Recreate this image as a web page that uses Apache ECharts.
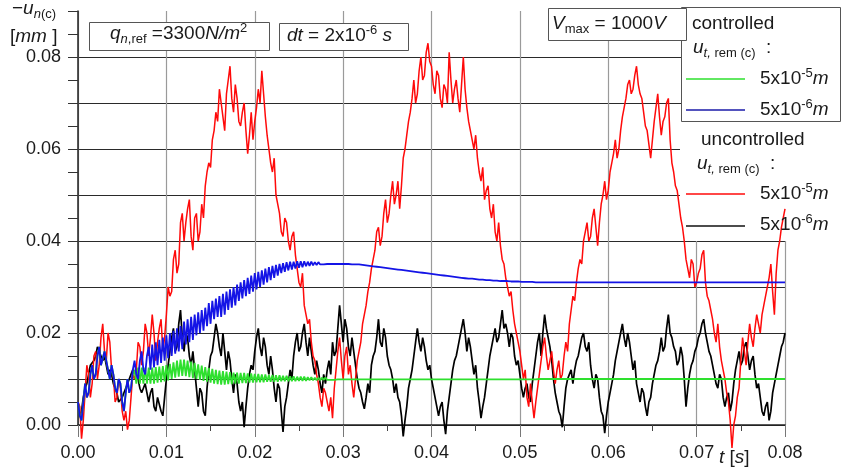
<!DOCTYPE html>
<html>
<head>
<meta charset="utf-8">
<script src="https://cdn.jsdelivr.net/npm/echarts@6/dist/echarts.min.js"></script>
<style>
html, body { margin: 0; padding: 0; background: #fff; }
#chart { width: 842px; height: 475px; }
</style>
</head>
<body>
<div id="chart"></div>
<script>
// every trace is sampled once per 0.2 ms (20 values per row = 4 ms), values in 10^-3 mm
const DT = 0.0002
const U = 0.001

// controlled, u_t,rem(c) = 5x10^-5 m (green)
const ctrl5e5 = [
  5, 2, 1, 5, 9, 6, 7, 11, 13, 10, 11, 15, 17, 13, 13, 16, 16, 12, 10, 13,
  11, 8, 7, 10, 9, 5, 3, 7, 10, 7, 8, 11, 12, 9, 12.5, 9, 12.5, 9, 12.5, 9,
  12.5, 9, 12.5, 9, 12.6, 9.2, 12.7, 9.3, 12.8, 9.5, 13, 9.7, 13.3, 10, 13.6, 10.3, 14, 10.5, 14.2, 10.7,
  14.2, 10.6, 14, 10.4, 13.8, 10.2, 13.5, 10, 13.2, 9.8, 12.9, 9.6, 12.6, 9.4, 12.4, 9.2, 12.2, 9, 12, 8.9,
  11.8, 8.8, 11.7, 8.8, 11.6, 8.9, 11.5, 8.9, 11.4, 9, 11.4, 9, 11.3, 9.1, 11.3, 9.1, 11.2, 9.2, 11.2, 9.2,
  11.1, 9.3, 11.1, 9.3, 11, 9.3, 11, 9.4, 10.9, 9.4, 10.9, 9.4, 10.8, 9.4, 10.8, 9.5, 10.7, 9.5, 10.7, 9.5,
  10.6, 9.5, 10.6, 9.5, 10.5, 9.6, 10.5, 9.6, 10.5, 9.6, 10.4, 9.7, 10.4, 9.7, 10.3, 9.7, 10.3, 9.7, 10.3, 9.8,
  10.3, 9.8, 10.2, 9.8, 10.2, 9.8, 10.2, 9.9, 10.1, 9.9, 10.1, 9.9, 10.1, 9.9, 10.1, 9.9, 10.1, 9.9, 10.1, 9.9,
  10.1, 9.9, 10.1, 9.9, 10.1, 9.9, 10.1, 9.9, 10.1, 9.9, 10.1, 9.9, 10.1, 9.9, 10.1, 9.9, 10.1, 9.9, 10.1, 9.9,
  10.1, 9.9, 10.1, 9.9, 10.1, 9.9, 10.1, 9.9, 10.1, 9.9, 10.1, 9.9, 10.1, 9.9, 10.1, 9.9, 10.1, 9.9, 10.1, 9.9,
  10.1, 9.9, 10.1, 9.9, 10.1, 9.9, 10.1, 9.9, 10.1, 9.9, 10.1, 9.9, 10.1, 9.9, 10.1, 9.9, 10.1, 9.9, 10.1, 9.9,
  10.1, 9.9, 10.1, 9.9, 10.1, 9.9, 10.1, 9.9, 10.1, 9.9, 10.1, 9.9, 10.1, 9.9, 10.1, 9.9, 10.1, 9.9, 10.1, 9.9,
  10.1, 9.9, 10.1, 9.9, 10.1, 9.9, 10.1, 9.9, 10.1, 9.9, 10.1, 9.9, 10.1, 9.9, 10.1, 9.9, 10.1, 9.9, 10.1, 9.9,
  10, 10, 10, 10, 10, 10, 10, 10, 10, 10, 10, 10, 10, 10, 10, 10, 10, 10, 10, 10,
  10, 10, 10, 10, 10, 10, 10, 10, 10, 10, 10, 10, 10, 10, 10, 10, 10, 10, 10, 10,
  10, 10, 10, 10, 10, 10, 10, 10, 10, 10, 10, 10, 10, 10, 10, 10, 10, 10, 10, 10,
  10, 10, 10, 10, 10, 10, 10, 10, 10, 10, 10, 10, 10, 10, 10, 10, 10, 10, 10, 10,
  10, 10, 10, 10, 10, 10, 10, 10, 10, 10, 10, 10, 10, 10, 10, 10, 10, 10, 10, 10,
  10, 10, 10, 10, 10, 10, 10, 10, 10, 10, 10, 10, 10, 10, 10, 10, 10, 10, 10, 10,
  10, 10, 10, 10, 10, 10, 10, 10, 10, 10, 10, 10, 10, 10, 10, 10, 10, 10, 10, 10,
  10
]

// controlled, u_t,rem(c) = 5x10^-6 m (blue)
const ctrl5e6 = [
  5, 2, 1, 5, 9, 6, 7, 11, 13, 10, 11, 15, 17, 13, 13, 16, 16, 12, 10, 13,
  11, 8, 7, 10, 9, 5, 3, 7, 10, 7, 8, 12, 14, 11, 10, 14, 16, 12, 11, 15,
  17, 12, 17.5, 12.5, 18, 13, 18.5, 13.5, 19, 14, 19.5, 14.5, 20, 15, 20.5, 15.5, 21, 16, 21.5, 16.5,
  22.5, 17.5, 23, 18, 23.5, 18.5, 24, 19.5, 24.5, 20, 25, 20.5, 25.5, 21.5, 26.5, 22, 27, 23, 27.5, 23.5,
  28, 23.5, 28.5, 24, 29, 25, 29.5, 25.5, 30, 26, 30.5, 27, 31, 27.5, 31.5, 28, 32, 28.5, 32.5, 29,
  33, 29.5, 33.3, 30, 33.6, 30.5, 34, 31, 34.3, 31.5, 34.6, 32, 34.8, 32.5, 35, 33, 35.2, 33.3, 35.4, 33.6,
  35.5, 33.8, 35.5, 34, 35.6, 34.2, 35.6, 34.3, 35.6, 34.5, 35.5, 34.6, 35.5, 34.7, 35.4, 34.8, 35.4, 34.9, 35.3, 34.9,
  35.3, 35, 35.3, 35, 35.2, 35, 35.2, 35, 35.2, 35, 35.1, 35, 35.1, 35, 35.1, 34.9, 35, 34.9, 35, 34.9,
  34.8, 34.8, 34.7, 34.7, 34.6, 34.6, 34.5, 34.5, 34.4, 34.4, 34.3, 34.3, 34.2, 34.2, 34.1, 34.1, 34, 34, 33.9, 33.9,
  33.8, 33.8, 33.7, 33.7, 33.6, 33.6, 33.5, 33.5, 33.4, 33.4, 33.3, 33.3, 33.2, 33.2, 33.1, 33.1, 33, 33, 32.9, 32.9,
  32.8, 32.8, 32.7, 32.7, 32.6, 32.6, 32.5, 32.5, 32.4, 32.4, 32.3, 32.3, 32.2, 32.2, 32.1, 32.1, 32, 32, 31.9, 31.9,
  31.8, 31.8, 31.8, 31.8, 31.7, 31.7, 31.6, 31.6, 31.6, 31.6, 31.5, 31.5, 31.5, 31.5, 31.4, 31.4, 31.4, 31.4, 31.3, 31.3,
  31.3, 31.3, 31.3, 31.3, 31.2, 31.2, 31.2, 31.2, 31.2, 31.2, 31.1, 31.1, 31.1, 31.1, 31.1, 31.1, 31.1, 31.1, 31, 31,
  31, 31, 31, 31, 31, 31, 31, 31, 31, 31, 31, 31, 31, 31, 31, 31, 31, 31, 31, 31,
  31, 31, 31, 31, 31, 31, 31, 31, 31, 31, 31, 31, 31, 31, 31, 31, 31, 31, 31, 31,
  31, 31, 31, 31, 31, 31, 31, 31, 31, 31, 31, 31, 31, 31, 31, 31, 31, 31, 31, 31,
  31, 31, 31, 31, 31, 31, 31, 31, 31, 31, 31, 31, 31, 31, 31, 31, 31, 31, 31, 31,
  31, 31, 31, 31, 31, 31, 31, 31, 31, 31, 31, 31, 31, 31, 31, 31, 31, 31, 31, 31,
  31, 31, 31, 31, 31, 31, 31, 31, 31, 31, 31, 31, 31, 31, 31, 31, 31, 31, 31, 31,
  31, 31, 31, 31, 31, 31, 31, 31, 31, 31, 31, 31, 31, 31, 31, 31, 31, 31, 31, 31,
  31
]

// uncontrolled, u_t,rem(c) = 5x10^-5 m (red)
const unc5e5 = [
  5, 4, -3, 1, 7, 13, 11, 6, 9, 15, 16, 10, 13, 19, 22, 16, 14, 20, 18, 12,
  11, 5, 6, 10, 8, 3, 1, 3, -1, 1, 6, 11, 10, 12, 18, 17, 13, 16, 22, 20,
  15, 19, 24, 20, 14, 18, 21, 23, 16, 19, 24, 30, 28, 29, 36, 38, 33, 35, 44, 46,
  40, 44, 47, 49, 41, 38, 45, 46, 40, 42, 48, 45, 52, 55, 57, 56, 62, 64, 68, 66,
  73, 70, 67, 64, 72, 75, 78, 71, 68, 74, 71, 66, 65, 68, 70, 64, 59, 63, 68, 62,
  66, 69, 73, 70, 77, 72, 67, 63, 60, 57, 55, 58, 50, 48, 46, 42, 41, 45, 44, 40,
  38, 41, 42, 37, 34, 31, 30, 33, 26, 24, 22, 23, 18, 15, 14, 11, 9, 6, 4, 8,
  7, 5, 3, 6, 1.5, 8, 12, 16, 19, 14, 10, 15, 17, 11, 13, 9, 6, 10, 14, 16,
  18, 22, 24, 26, 29, 31, 34, 36, 38, 42, 43, 39, 41, 46, 49, 44, 46, 50, 53, 48,
  50, 53, 47, 52, 58, 60, 63, 66, 68, 71, 75, 70, 72, 77, 80, 75, 76, 81, 83, 79,
  78, 74, 72, 77, 76, 71, 69, 74, 73, 70, 81, 75, 70, 73, 75, 71, 68, 74, 80, 73,
  69, 66, 64, 62, 60, 63, 58, 55, 53, 56, 49, 51, 52, 47, 45, 48, 42, 40, 44, 39,
  36, 35, 32, 30, 28, 29, 25, 22, 20, 18, 16, 13, 10, 12, 6, 4, 9, 5, 1.5, 5,
  8, 11, 14, 17, 19, 15, 12, 14, 16, 12, 9, 12, 14, 10, 11, 15, 18, 16, 22, 25,
  28, 27, 31, 34, 36, 35, 40, 42, 44, 40, 41, 45, 47, 43, 39, 44, 48, 50, 53, 49,
  51, 55, 57, 59, 62, 58, 60, 64, 67, 69, 71, 74, 75, 72, 73, 76, 78, 74, 72, 71,
  68, 65, 64, 61, 58, 62, 66, 69, 72, 67, 63, 66, 67, 70, 71, 62, 57, 55, 52, 51,
  48, 45, 43, 40, 36, 34, 32, 36, 35, 30, 31, 33, 34, 37, 38, 31, 28, 27, 25, 23,
  20, 18, 22, 17, 14, 12, 10, 7, 5, 1, -5, 0, 2, 6, 8, 14, 19, 16, 13, 18,
  22, 19, 17, 21, 24, 22, 20, 24, 26, 28, 30, 32, 35, 29, 24, 33, 38, 40, 43, 45,
  47
]

// uncontrolled, u_t,rem(c) = 5x10^-6 m (black)
const unc5e6 = [
  5, 2, 3, 6, 8, 9, 11, 13, 13, 14, 15, 17, 16, 15, 14, 15, 13, 11, 12, 11,
  9, 8, 7, 5, 5, 6, 6, 8, 9, 10, 11, 12, 12, 11, 10, 8, 7, 8, 9, 7,
  5, 7, 8, 4, 3, 6, 6, 3, 2, 6, 10, 13, 16, 19, 21, 16, 17, 22, 25, 19,
  16, 20, 19, 15, 13, 16, 12, 8, 4, 8, 7, 3, 2, 8, 12, 15, 16, 19, 22, 20,
  17, 15, 20, 16, 12, 16, 14, 10, 7, 11, 9, 5, 3, 5, -0.5, 4, 8, 11, 13, 12,
  16, 19, 21, 17, 15, 19, 17, 13, 11, 15, 12, 8, 5, 9, 8, 3, -1.5, 4, 6, 9,
  12, 10, 15, 18, 20, 16, 17, 20, 22, 18, 15, 19, 16, 13, 11, 14, 12, 9, 7, 11,
  9, 12, 14, 11, 18, 15, 16, 21, 26, 22, 18, 23, 21, 17, 15, 19, 16, 13, 10, 8,
  7, 5, 3.5, 6, 9, 7, 13, 15, 16, 19, 23, 18, 17, 21, 19, 15, 13, 12, 10, 7,
  9, 6, 5, 2, -2.5, 1, 4, 8, 10, 12, 15, 18, 21, 18, 16, 19, 17, 14, 12, 13,
  10, 8, 6, 4, 2, 4, 5, 1, -2, 3, 6, 9, 12, 14, 15, 17, 19, 21, 23, 20,
  16, 19, 17, 14, 11, 13, 8, 5, 1.5, 4, 6, 9, 12, 15, 17, 19, 21, 18, 19, 22,
  25, 21, 22, 20, 17, 20, 19, 15, 13, 14, 11, 8, 6, 8, 9, 6, 5, 9, 12, 15,
  18, 20, 15, 20, 24, 21, 19, 17, 14, 10, 7, 5, 3, 2, -0.5, 4, 8, 10, 11, 12,
  9, 12, 14, 15, 17, 19, 20, 17, 16, 18, 13, 10, 8, 11, 10, 6, 3, 2, -1.8, 2,
  5, 7, 9, 11, 14, 16, 18, 20, 22, 19, 17, 20, 18, 15, 12, 14, 9, 7, 5, 8,
  7, 4, 2, 5, 6, 9, 11, 13, 14, 16, 19, 16, 17, 21, 24, 20, 19, 17, 16, 13,
  14, 17, 15, 10, 4, 8, 11, 13, 14, 16, 17, 19, 20, 22, 23, 20, 18, 16, 15, 13,
  11, 9, 8, 11, 10, 6, 4, 6, 7, 3, 5, 9, 12, 14, 16, 13, 14, 17, 18, 15,
  12, 14, 15, 11, 8, 9, 6, 3, 2, 4, 5, 1, 3, 7, 9, 11, 13, 15, 17, 18,
  20
]

// y labels only every second grid line
const yTickLabels = [0, 0.02, 0.04, 0.06, 0.08]

const FONT = 'Liberation Sans, Arial, sans-serif'
const INK = '#1a1a1a'

function toPairs(vals) {
  return vals.map((v, i) => [+(i * DT).toFixed(4), v * U])
}

// rich text styles shared by the annotation texts
const rich = {
  r: { fontFamily: FONT, fontSize: 19, lineHeight: 24, verticalAlign: 'middle' },
  i: { fontFamily: FONT, fontSize: 19, fontStyle: 'italic', lineHeight: 24, verticalAlign: 'middle' },
  sub: { fontFamily: FONT, fontSize: 13, lineHeight: 13, verticalAlign: 'bottom' },
  subi: { fontFamily: FONT, fontSize: 13, fontStyle: 'italic', lineHeight: 13, verticalAlign: 'bottom' },
  sup: { fontFamily: FONT, fontSize: 13, lineHeight: 13, verticalAlign: 'top' }
}

function label(x, y, text, z) {
  return {
    type: 'text', x: x, y: y, z: z || 10,
    style: { text: text, rich: rich, fill: INK, align: 'left', verticalAlign: 'top' }
  }
}
function box(x, y, w, h, z, stroke) {
  return {
    type: 'rect', z: z, shape: { x: x, y: y, width: w, height: h },
    style: { fill: '#fff', stroke: stroke || null, lineWidth: 1 }
  }
}
function sample(y, color, z) {
  return {
    type: 'line', z: z || 10,
    shape: { x1: 686, y1: y, x2: 745, y2: y },
    style: { stroke: color, lineWidth: 1.5 }
  }
}

const chart = echarts.init(document.getElementById('chart'))

const option = {
  animation: false,
  backgroundColor: '#fff',
  grid: { left: 78, right: 57, top: 11, bottom: 50 },
  xAxis: {
    type: 'value',
    min: 0,
    max: 0.08,
    interval: 0.01,
    axisLine: { show: true, onZero: false, lineStyle: { color: '#222', width: 1.5 } },
    axisTick: { show: true, length: 12, lineStyle: { color: '#777' } },
    minorTick: { show: true, splitNumber: 2, length: 6, lineStyle: { color: '#444' } },
    splitLine: { show: true, lineStyle: { color: '#9a9a9a', width: 1.2 } },
    axisLabel: {
      margin: 19, fontSize: 18, fontFamily: FONT, color: INK,
      formatter: v => v.toFixed(2)
    }
  },
  yAxis: {
    type: 'value',
    min: 0,
    max: 0.09,
    interval: 0.01,
    axisLine: { show: true, lineStyle: { color: '#222', width: 1.5 } },
    axisTick: { show: true, length: 10, lineStyle: { color: '#333' } },
    minorTick: { show: true, splitNumber: 2, length: 10, lineStyle: { color: '#333' } },
    splitLine: { show: true, showMaxLine: false, lineStyle: { color: '#2a2a2a', width: 1.2 } },
    axisLabel: {
      margin: 17, fontSize: 18, fontFamily: FONT, color: INK,
      formatter: v => yTickLabels.some(t => Math.abs(t - v) < 1e-9) ? v.toFixed(2) : ''
    }
  },
  series: [
    {
      name: 'uncontrolled 5x10-6 m', type: 'line', z: 2, clip: false,
      showSymbol: false, data: toPairs(unc5e6),
      lineStyle: { color: '#000', width: 1.7 }
    },
    {
      name: 'uncontrolled 5x10-5 m', type: 'line', z: 3, clip: false,
      showSymbol: false, data: toPairs(unc5e5),
      lineStyle: { color: '#ff0a0a', width: 1.5 }
    },
    {
      name: 'controlled 5x10-5 m', type: 'line', z: 4, clip: false,
      showSymbol: false, data: toPairs(ctrl5e5),
      lineStyle: { color: '#2ee02e', width: 1.8 }
    },
    {
      name: 'controlled 5x10-6 m', type: 'line', z: 5, clip: false,
      showSymbol: false, data: toPairs(ctrl5e6),
      lineStyle: { color: '#1414e6', width: 1.8 }
    }
  ],
  graphic: {
    elements: [
      // axis titles
      label(12, -3, '{r|\u2212}{i|u}{subi|n}{sub|(c)}'),
      label(10, 25, '{r|[}{i|mm}{r| ]}'),
      label(719, 446, '{i|t}{r| [}{i|s}{r|]}'),

      // parameter boxes
      box(89.5, 22.5, 180, 28, 10, '#555'),
      label(110, 22, '{i|q}{subi|n}{sub|,ref}{r| =3300}{i|N/m}{sup|2}'),
      box(279.5, 23.5, 129, 27, 10, '#555'),
      label(287, 24, '{i|dt}{r| = 2x10}{sup|-6}{i| s}'),

      // controlled legend
      box(681.5, 7.5, 159, 114, 10, '#555'),
      label(692, 12, '{r|controlled}', 11),
      label(693, 36, '{i|u}{subi|t,}{sub| rem (c)}{r|  :}', 11),
      sample(79, '#2ee02e', 11),
      label(760, 67, '{r|5x10}{sup|-5}{i|m}', 11),
      sample(110, '#1a1aa8', 11),
      label(760, 98, '{r|5x10}{sup|-6}{i|m}', 11),

      box(548.5, 8.5, 138, 32, 12, '#555'),
      label(552, 12, '{i|V}{sub|max}{r| = 1000}{i|V}', 12),

      // uncontrolled legend: white patch under the traces
      box(680, 122, 162, 119, 1),
      label(701, 128, '{r|uncontrolled}'),
      label(697, 152, '{i|u}{subi|t,}{sub| rem (c)}{r|  :}'),
      sample(194, '#ff0a0a'),
      label(760, 182, '{r|5x10}{sup|-5}{i|m}'),
      sample(226, '#111'),
      label(760, 213, '{r|5x10}{sup|-6}{i|m}')
    ]
  }
}

chart.setOption(option)
</script>
</body>
</html>
